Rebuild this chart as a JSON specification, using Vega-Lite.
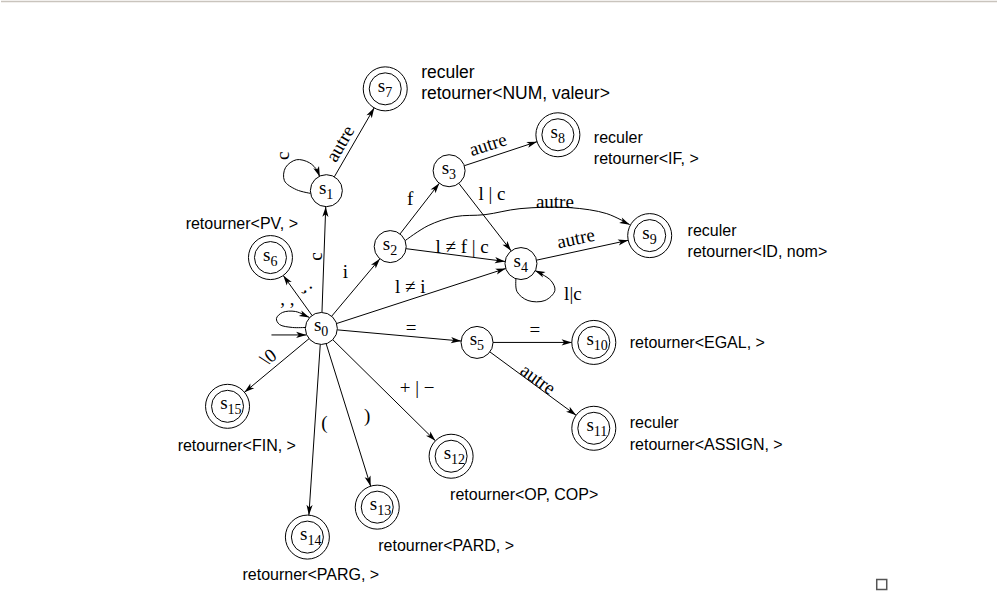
{
  "$schema": "https://vega.github.io/schema/vega-lite/v6.json",
  "width": 998,
  "height": 600,
  "padding": 0,
  "autosize": {"type": "fit", "contains": "padding"},
  "background": "white",
  "config": {"view": {"stroke": null}, "axis": {"disable": true}},
  "datasets": {
    "nodes": [
      {"id": "s0", "n": "0", "x": 321, "y": 328, "final": false},
      {"id": "s1", "n": "1", "x": 326, "y": 190, "final": false},
      {"id": "s2", "n": "2", "x": 390, "y": 246, "final": false},
      {"id": "s3", "n": "3", "x": 449, "y": 170, "final": false},
      {"id": "s4", "n": "4", "x": 521, "y": 263, "final": false},
      {"id": "s5", "n": "5", "x": 477, "y": 342, "final": false},
      {"id": "s6", "n": "6", "x": 270, "y": 257, "final": true},
      {"id": "s7", "n": "7", "x": 385, "y": 88, "final": true},
      {"id": "s8", "n": "8", "x": 558, "y": 134, "final": true},
      {"id": "s9", "n": "9", "x": 650, "y": 235, "final": true},
      {"id": "s10", "n": "10", "x": 594, "y": 342, "final": true},
      {"id": "s11", "n": "11", "x": 594, "y": 428, "final": true},
      {"id": "s12", "n": "12", "x": 451, "y": 456, "final": true},
      {"id": "s13", "n": "13", "x": 377, "y": 507, "final": true},
      {"id": "s14", "n": "14", "x": 307, "y": 537, "final": true},
      {"id": "s15", "n": "15", "x": 227, "y": 406, "final": true}
    ],
    "edges": [
      {"from": "start", "to": "s0", "x": 271, "y": 334.5, "x2": 306, "y2": 334.5},
      {"from": "s0", "to": "s1", "x": 321.6, "y": 312, "x2": 325.4, "y2": 206},
      {"from": "s0", "to": "s6", "x": 311.7, "y": 315, "x2": 282.8, "y2": 274.9},
      {"from": "s0", "to": "s2", "x": 331.3, "y": 315.8, "x2": 379.7, "y2": 258.2},
      {"from": "s0", "to": "s4", "x": 336.2, "y": 323.1, "x2": 505.8, "y2": 267.9},
      {"from": "s0", "to": "s5", "x": 336.9, "y": 329.4, "x2": 461.1, "y2": 340.6},
      {"from": "s0", "to": "s15", "x": 308.7, "y": 338.2, "x2": 243.9, "y2": 392},
      {"from": "s0", "to": "s14", "x": 319.9, "y": 344, "x2": 308.5, "y2": 515},
      {"from": "s0", "to": "s13", "x": 325.8, "y": 343.3, "x2": 370.4, "y2": 486},
      {"from": "s0", "to": "s12", "x": 332.4, "y": 339.2, "x2": 435.3, "y2": 440.6},
      {"from": "s1", "to": "s7", "x": 334, "y": 176.1, "x2": 374, "y2": 107},
      {"from": "s2", "to": "s3", "x": 399.8, "y": 233.4, "x2": 439.2, "y2": 182.6},
      {"from": "s2", "to": "s4", "x": 405.9, "y": 248.1, "x2": 505.1, "y2": 260.9},
      {"from": "s3", "to": "s8", "x": 464.2, "y": 165, "x2": 537.1, "y2": 140.9},
      {"from": "s3", "to": "s4", "x": 458.8, "y": 182.7, "x2": 511.2, "y2": 250.3},
      {"from": "s4", "to": "s9", "x": 536.6, "y": 259.6, "x2": 628.5, "y2": 239.7},
      {"from": "s5", "to": "s10", "x": 493, "y": 342, "x2": 572, "y2": 342},
      {"from": "s5", "to": "s11", "x": 489.9, "y": 351.5, "x2": 576.3, "y2": 415}
    ],
    "curves": [
      {"id": "s1-s1", "k": 0, "x": 312, "y": 193},
      {"id": "s1-s1", "k": 1, "x": 296, "y": 189},
      {"id": "s1-s1", "k": 2, "x": 284, "y": 180},
      {"id": "s1-s1", "k": 3, "x": 285, "y": 167},
      {"id": "s1-s1", "k": 4, "x": 296, "y": 159},
      {"id": "s1-s1", "k": 5, "x": 309, "y": 162},
      {"id": "s1-s1", "k": 6, "x": 317, "y": 170},
      {"id": "s1-s1", "k": 7, "x": 319, "y": 176},
      {"id": "s0-s0", "k": 0, "x": 305, "y": 327},
      {"id": "s0-s0", "k": 1, "x": 292, "y": 327},
      {"id": "s0-s0", "k": 2, "x": 279, "y": 324},
      {"id": "s0-s0", "k": 3, "x": 276, "y": 318},
      {"id": "s0-s0", "k": 4, "x": 282, "y": 312},
      {"id": "s0-s0", "k": 5, "x": 295, "y": 311},
      {"id": "s0-s0", "k": 6, "x": 309, "y": 317},
      {"id": "s4-s4", "k": 0, "x": 516, "y": 278},
      {"id": "s4-s4", "k": 1, "x": 517, "y": 291},
      {"id": "s4-s4", "k": 2, "x": 528, "y": 300},
      {"id": "s4-s4", "k": 3, "x": 545, "y": 300},
      {"id": "s4-s4", "k": 4, "x": 555, "y": 290},
      {"id": "s4-s4", "k": 5, "x": 551, "y": 280},
      {"id": "s4-s4", "k": 6, "x": 535, "y": 270},
      {"id": "s2-s9", "k": 0, "x": 405, "y": 240},
      {"id": "s2-s9", "k": 1, "x": 428, "y": 225},
      {"id": "s2-s9", "k": 2, "x": 455, "y": 216},
      {"id": "s2-s9", "k": 3, "x": 485, "y": 214},
      {"id": "s2-s9", "k": 4, "x": 520, "y": 208},
      {"id": "s2-s9", "k": 5, "x": 570, "y": 207},
      {"id": "s2-s9", "k": 6, "x": 607, "y": 213},
      {"id": "s2-s9", "k": 7, "x": 630, "y": 224}
    ],
    "tips": [
      {"id": "s1-s1", "x": 316, "y": 167, "x2": 319.5, "y2": 176},
      {"id": "s0-s0", "x": 298, "y": 312, "x2": 309, "y2": 317},
      {"id": "s4-s4", "x": 546, "y": 275, "x2": 535, "y2": 270},
      {"id": "s2-s9", "x": 607, "y": 213, "x2": 630, "y2": 224}
    ],
    "labels": [
      {"t": "c", "x": 316, "y": 256, "rot": -90},
      {"t": ";", "x": 309, "y": 288, "rot": 54},
      {"t": "i", "x": 345, "y": 271, "rot": 0},
      {"t": "l ≠ i", "x": 410, "y": 286, "rot": 0},
      {"t": "=", "x": 411, "y": 328, "rot": 0},
      {"t": "\\0", "x": 268, "y": 357, "rot": -38},
      {"t": "(", "x": 324, "y": 423, "rot": 0},
      {"t": ")", "x": 367, "y": 416, "rot": 0},
      {"t": "+ | −", "x": 417, "y": 388, "rot": 0},
      {"t": "autre", "x": 340, "y": 143, "rot": -60},
      {"t": "f", "x": 410, "y": 198, "rot": 0},
      {"t": "autre", "x": 488, "y": 144, "rot": -18},
      {"t": "l | c", "x": 492, "y": 193, "rot": 0},
      {"t": "autre", "x": 555, "y": 201, "rot": 0},
      {"t": "l ≠ f | c", "x": 462, "y": 246, "rot": 0},
      {"t": "autre", "x": 576, "y": 238, "rot": -12},
      {"t": "=", "x": 535, "y": 330, "rot": 0},
      {"t": "autre", "x": 538, "y": 379, "rot": 36},
      {"t": "c", "x": 283, "y": 155, "rot": -90},
      {"t": ", ,", "x": 287, "y": 298, "rot": 0},
      {"t": "l|c", "x": 573, "y": 293, "rot": 0}
    ],
    "notes": [
      {"state": "s7", "t": "reculer", "x": 421, "y": 72},
      {"state": "s7", "t": "retourner<NUM, valeur>", "x": 421, "y": 93},
      {"state": "s8", "t": "reculer", "x": 594, "y": 137},
      {"state": "s8", "t": "retourner<IF, >", "x": 594, "y": 158},
      {"state": "s9", "t": "reculer", "x": 688, "y": 230},
      {"state": "s9", "t": "retourner<ID, nom>", "x": 688, "y": 251},
      {"state": "s10", "t": "retourner<EGAL, >", "x": 630, "y": 343},
      {"state": "s11", "t": "reculer", "x": 630, "y": 423},
      {"state": "s11", "t": "retourner<ASSIGN, >", "x": 630, "y": 445},
      {"state": "s12", "t": "retourner<OP, COP>", "x": 450, "y": 495},
      {"state": "s13", "t": "retourner<PARD, >", "x": 378, "y": 546},
      {"state": "s14", "t": "retourner<PARG, >", "x": 242, "y": 575},
      {"state": "s15", "t": "retourner<FIN, >", "x": 177, "y": 446},
      {"state": "s6", "t": "retourner<PV, >", "x": 185, "y": 223}
    ]
  },
  "encoding": {
    "x": {"field": "x", "type": "quantitative", "scale": {"domain": [0, 998], "nice": false, "zero": false}},
    "y": {"field": "y", "type": "quantitative", "scale": {"domain": [0, 600], "nice": false, "zero": false, "reverse": true}}
  },
  "layer": [
    {
      "data": {"values": [{"x": 0, "x2": 998, "y": 0.5}]},
      "mark": {"type": "rule", "color": "#c9c4bd", "strokeWidth": 1.5},
      "encoding": {"x2": {"field": "x2"}}
    },
    {
      "data": {"name": "edges"},
      "mark": {"type": "rule", "color": "black", "strokeWidth": 1},
      "encoding": {"x2": {"field": "x2"}, "y2": {"field": "y2"}}
    },
    {
      "data": {"name": "curves"},
      "mark": {"type": "line", "color": "black", "strokeWidth": 1, "interpolate": "catmull-rom"},
      "encoding": {"detail": {"field": "id"}, "order": {"field": "k", "type": "quantitative"}}
    },
    {
      "data": {"name": "nodes"},
      "transform": [{"filter": "datum.final"}],
      "mark": {"type": "point", "shape": "circle", "filled": true, "fill": "white", "stroke": "black", "strokeWidth": 1, "opacity": 1, "size": 1936}
    },
    {
      "data": {"name": "nodes"},
      "mark": {"type": "point", "shape": "circle", "filled": true, "fill": "white", "stroke": "black", "strokeWidth": 1, "opacity": 1, "size": 1024}
    },
    {
      "data": {"name": "edges"},
      "transform": [{"calculate": "atan2(datum.y2 - datum.y, datum.x2 - datum.x) * 180 / PI", "as": "ang"}],
      "mark": {"type": "point", "shape": "M0,0L-1,-0.3L-0.75,0L-1,0.3Z", "filled": true, "fill": "black", "opacity": 1, "size": 420},
      "encoding": {
        "x": {"field": "x2", "type": "quantitative"},
        "y": {"field": "y2", "type": "quantitative"},
        "angle": {"field": "ang", "type": "quantitative", "scale": null}
      }
    },
    {
      "data": {"name": "tips"},
      "transform": [{"calculate": "atan2(datum.y2 - datum.y, datum.x2 - datum.x) * 180 / PI", "as": "ang"}],
      "mark": {"type": "point", "shape": "M0,0L-1,-0.3L-0.75,0L-1,0.3Z", "filled": true, "fill": "black", "opacity": 1, "size": 420},
      "encoding": {
        "x": {"field": "x2", "type": "quantitative"},
        "y": {"field": "y2", "type": "quantitative"},
        "angle": {"field": "ang", "type": "quantitative", "scale": null}
      }
    },
    {
      "data": {"name": "nodes"},
      "mark": {"type": "text", "text": "s", "font": "Liberation Serif", "fontSize": 19, "align": "right", "baseline": "middle", "dx": 0, "dy": -3, "color": "black"}
    },
    {
      "data": {"name": "nodes"},
      "mark": {"type": "text", "font": "Liberation Serif", "fontSize": 14, "align": "left", "baseline": "middle", "dx": 0, "dy": 4, "color": "black"},
      "encoding": {"text": {"field": "n"}}
    },
    {
      "data": {"name": "labels"},
      "mark": {"type": "text", "font": "Liberation Serif", "fontSize": 19, "align": "center", "baseline": "middle", "color": "black"},
      "encoding": {
        "text": {"field": "t"},
        "angle": {"field": "rot", "type": "quantitative", "scale": null}
      }
    },
    {
      "data": {"name": "notes"},
      "transform": [{"filter": "datum.state != 's7'"}],
      "mark": {"type": "text", "font": "Liberation Sans", "fontSize": 16, "align": "left", "baseline": "middle", "color": "black"},
      "encoding": {"text": {"field": "t"}}
    },
    {
      "data": {"name": "notes"},
      "transform": [{"filter": "datum.state == 's7'"}],
      "mark": {"type": "text", "font": "Liberation Sans", "fontSize": 17.5, "align": "left", "baseline": "middle", "color": "black"},
      "encoding": {"text": {"field": "t"}}
    },
    {
      "data": {"values": [{"x": 882.5, "y": 584.5}]},
      "mark": {"type": "point", "shape": "square", "filled": false, "stroke": "#555555", "strokeWidth": 1.5, "opacity": 1, "size": 100}
    }
  ]
}
